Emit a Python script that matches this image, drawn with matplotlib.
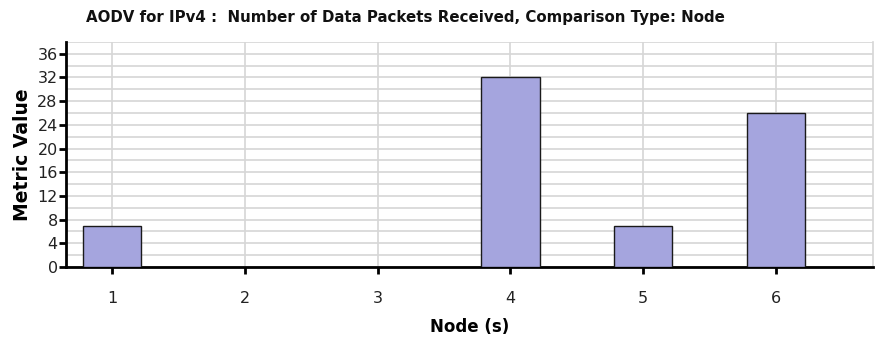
import matplotlib
matplotlib.use('Agg')
import matplotlib.pyplot as plt
import numpy as np

nodes = [1, 2, 3, 4, 5, 6]
node_labels = ['1', '2', '3', '4', '5', '6']
packets = [7, 0, 0, 32, 7, 26]

plt.rcParams['font.family'] = ['DejaVu Sans']

fig = plt.figure(figsize=(8.76, 3.38), dpi=100)
ax = fig.add_axes([0.0753, 0.21, 0.9213, 0.666])

ax.bar(nodes, packets, width=0.44, color='#a5a5de', edgecolor='#1a1a1a', linewidth=1.0, zorder=3)

ax.set_xlim(0.654, 6.73)
ax.set_ylim(0, 38)
ax.set_yticks(np.arange(0, 37, 4))
ax.set_yticks(np.arange(0, 39, 2), minor=True)
ax.set_xticks(nodes)
ax.set_xticklabels(node_labels)

ax.grid(axis='y', which='both', color='#d6d6d6', linewidth=1.2, zorder=0)
ax.grid(axis='x', which='major', color='#d6d6d6', linewidth=1.2, zorder=0)

ax.spines['top'].set_visible(False)
ax.spines['right'].set_color('#d6d6d6')
ax.spines['right'].set_linewidth(1.2)
ax.spines['left'].set_linewidth(2)
ax.spines['bottom'].set_linewidth(2)

ax.tick_params(axis='both', which='major', length=5, width=2, labelsize=11.5, color='black', labelcolor='#222222')
ax.tick_params(axis='y', which='minor', length=0)
ax.tick_params(axis='y', pad=1)
ax.tick_params(axis='x', pad=12)

ax.set_xlabel('Node (s)', fontsize=12, fontweight='bold', labelpad=9)
ax.set_ylabel('Metric Value', fontsize=13.5, fontweight='bold', labelpad=4)
fig.text(0.098, 0.925, 'AODV for IPv4 :  Number of Data Packets Received, Comparison Type: Node',
         fontsize=10.8, fontweight='bold', color='#111111', va='bottom')

fig.savefig('out.png', dpi=100)
